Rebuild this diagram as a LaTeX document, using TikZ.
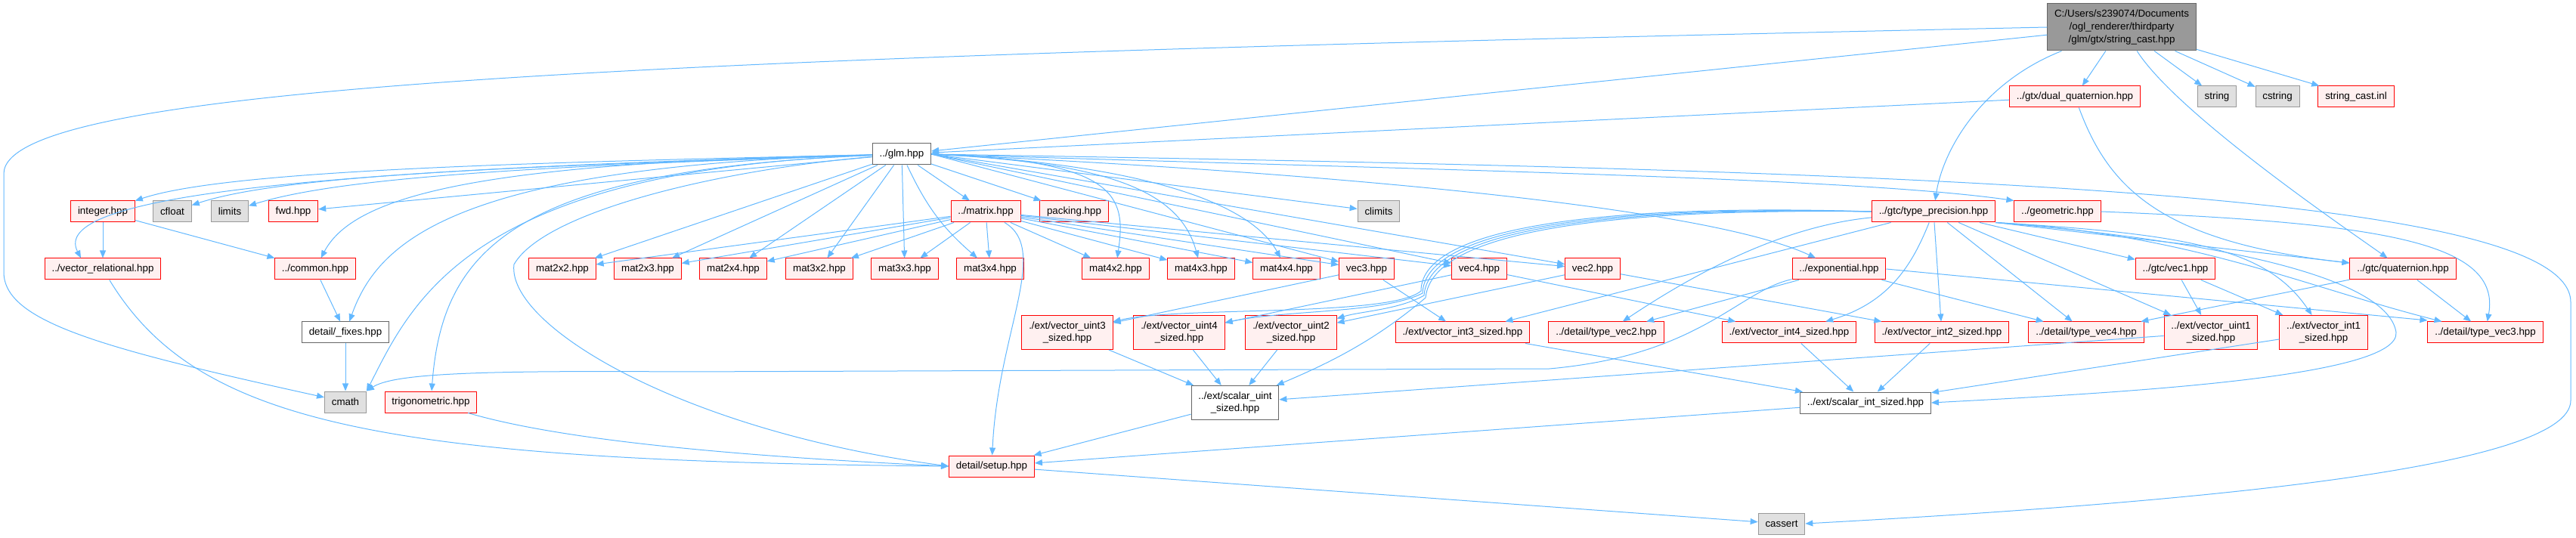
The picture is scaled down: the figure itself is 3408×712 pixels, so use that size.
\documentclass[tikz,border=0pt]{standalone}
\usepackage{fontspec}
\setmainfont{Liberation Sans}
\usetikzlibrary{arrows.meta}
\definecolor{edgeblue}{HTML}{63B8FF}
\definecolor{hdrfill}{HTML}{FFF0F0}
\definecolor{hdrline}{HTML}{FF0000}
\definecolor{sysfill}{HTML}{E0E0E0}
\definecolor{sysline}{HTML}{999999}
\definecolor{rootfill}{HTML}{999999}
\definecolor{darkline}{HTML}{666666}
\begin{document}
\begin{tikzpicture}[x=0.75pt, y=-0.75pt,
	filebox/.style={minimum height=21pt, inner xsep=7pt, inner ysep=2pt, line width=0.75pt, align=center, font=\fontsize{10}{12.5}\selectfont},
	hdr/.style={filebox, draw=hdrline, fill=hdrfill},
	sys/.style={filebox, draw=sysline, fill=sysfill},
	leaf/.style={filebox, draw=darkline, fill=white},
	rootfile/.style={filebox, draw=darkline, fill=rootfill, minimum height=46.5pt},
	tall/.style={minimum height=33.75pt},
	inc/.style={draw=edgeblue, line width=0.75pt, -{Triangle[length=7.5pt,width=6pt]}}]
	\useasboundingbox (0,0) rectangle (3408,712);
	% files
	\node[rootfile] (root) at (2807,36) {C:/Users/s239074/Documents\\/ogl\_renderer/thirdparty\\/glm/gtx/string\_cast.hpp};
	\node[hdr] (dualq) at (2745,128) {../gtx/dual\_quaternion.hpp};
	\node[sys] (string) at (2933,128) {string};
	\node[sys] (cstring) at (3013,128) {cstring};
	\node[hdr] (castinl) at (3117,128) {string\_cast.inl};
	\node[leaf] (glm) at (1193,204) {../glm.hpp};
	\node[hdr] (integer) at (136,280) {integer.hpp};
	\node[sys] (cfloat) at (228,280) {cfloat};
	\node[sys] (limits) at (304,280) {limits};
	\node[hdr] (fwd) at (388,280) {fwd.hpp};
	\node[hdr] (matrix) at (1304,280) {../matrix.hpp};
	\node[hdr] (packing) at (1421,280) {packing.hpp};
	\node[sys] (climits) at (1824,280) {climits};
	\node[hdr] (typeprec) at (2558,280) {../gtc/type\_precision.hpp};
	\node[hdr] (geometric) at (2722,280) {../geometric.hpp};
	\node[hdr] (vecrel) at (136,356) {../vector\_relational.hpp};
	\node[hdr] (common) at (417,356) {../common.hpp};
	\foreach \m/\x in {2x2/744, 2x3/857, 2x4/970, 3x2/1084, 3x3/1197, 3x4/1310, 4x2/1476, 4x3/1589, 4x4/1702}
		\node[hdr] (mat\m) at (\x,356) {mat\m.hpp};
	\node[hdr] (vec3) at (1808,356) {vec3.hpp};
	\node[hdr] (vec4) at (1957,356) {vec4.hpp};
	\node[hdr] (vec2) at (2107,356) {vec2.hpp};
	\node[hdr] (exponential) at (2433,356) {../exponential.hpp};
	\node[hdr] (gtcvec1) at (2878,356) {../gtc/vec1.hpp};
	\node[hdr] (quaternion) at (3179,356) {../gtc/quaternion.hpp};
	\node[leaf] (fixes) at (457,440) {detail/\_fixes.hpp};
	\node[hdr, tall] (uint3) at (1412,440) {./ext/vector\_uint3\\\_sized.hpp};
	\node[hdr, tall] (uint4) at (1560,440) {./ext/vector\_uint4\\\_sized.hpp};
	\node[hdr, tall] (uint2) at (1708,440) {./ext/vector\_uint2\\\_sized.hpp};
	\node[hdr] (int3) at (1935,440) {./ext/vector\_int3\_sized.hpp};
	\node[hdr] (tvec2) at (2125,440) {../detail/type\_vec2.hpp};
	\node[hdr] (int4) at (2367,440) {./ext/vector\_int4\_sized.hpp};
	\node[hdr] (int2) at (2569,440) {./ext/vector\_int2\_sized.hpp};
	\node[hdr] (tvec4) at (2760,440) {../detail/type\_vec4.hpp};
	\node[hdr, tall] (uint1) at (2925,440) {../ext/vector\_uint1\\\_sized.hpp};
	\node[hdr, tall] (int1) at (3074,440) {../ext/vector\_int1\\\_sized.hpp};
	\node[hdr] (tvec3) at (3288,440) {../detail/type\_vec3.hpp};
	\node[sys] (cmath) at (457,532) {cmath};
	\node[hdr] (trig) at (570,532) {trigonometric.hpp};
	\node[leaf, tall] (scuint) at (1634,533) {../ext/scalar\_uint\\\_sized.hpp};
	\node[leaf] (scint) at (2468,533) {../ext/scalar\_int\_sized.hpp};
	\node[hdr] (setup) at (1312,617) {detail/setup.hpp};
	\node[sys] (cassert) at (2357,693) {cassert};
	% string_cast.hpp
	\draw[inc] (root) -- (glm);
	\draw[inc] (root.west) .. controls (900,75) and (5,110) .. (5,230) -- (5,360) .. controls (5,425) and (130,460) .. (cmath);
	\draw[inc] (root) .. controls (2620,110) and (2570,200) .. (typeprec);
	\draw[inc] (root) -- (dualq);
	\draw[inc] (root) .. controls (2880,150) and (3100,300) .. (quaternion);
	\draw[inc] (root) -- (string);
	\draw[inc] (root) -- (cstring);
	\draw[inc] (root) -- (castinl);
	\draw[inc] (dualq) -- (glm);
	\draw[inc] (dualq) .. controls (2790,250) and (2860,320) .. (quaternion);
	% glm.hpp
	\draw[inc] (glm) .. controls (700,215) and (300,225) .. (integer);
	\draw[inc] (glm) .. controls (700,220) and (380,230) .. (cfloat);
	\draw[inc] (glm) .. controls (700,220) and (450,235) .. (limits);
	\draw[inc] (glm) -- (fwd);
	\draw[inc] (glm) .. controls (400,225) and (65,260) .. ([xshift=-21.75pt]vecrel.north);
	\draw[inc] (glm) .. controls (650,215) and (470,255) .. (common);
	\draw[inc] (glm) .. controls (600,220) and (500,320) .. (fixes);
	\draw[inc] (glm) .. controls (620,225) and (545,400) .. (cmath.north east);
	\draw[inc] (glm) .. controls (680,225) and (585,330) .. (trig);
	\draw[inc] (glm) .. controls (950,225) and (720,280) .. (680,350) .. controls (670,430) and (900,570) .. (setup.west);
	\foreach \m in {2x2,2x3,2x4,3x2,3x3}
		\draw[inc] (glm) -- (mat\m);
	\draw[inc] (glm) to[bend right=12] (mat3x4);
	\draw[inc] (glm) -- (matrix);
	\draw[inc] (glm) -- (packing);
	\draw[inc] (glm.east) .. controls (1480,212) and (1490,260) .. (mat4x2);
	\draw[inc] (glm.east) .. controls (1460,215) and (1560,250) .. (mat4x3);
	\draw[inc] (glm.east) .. controls (1480,215) and (1650,260) .. (mat4x4);
	\draw[inc] (glm.east) -- (climits);
	\draw[inc] (glm.east) -- (vec3);
	\draw[inc] (glm.east) -- (vec4);
	\draw[inc] (glm.east) -- (vec2);
	\draw[inc] (glm.east) .. controls (1700,225) and (2250,270) .. (exponential);
	\draw[inc] (glm.east) .. controls (1900,225) and (2450,235) .. (geometric.north west);
	\draw[inc] (glm.east) .. controls (2500,225) and (3401,250) .. (3401,400) -- (3401,530) .. controls (3401,620) and (2900,665) .. (cassert.east);
	% matrix.hpp
	\foreach \m in {2x2,2x3,2x4,3x2,3x3,3x4,4x2,4x3,4x4}
		\draw[inc] (matrix) -- (mat\m);
	\draw[inc] (matrix) -- (vec3);
	\draw[inc] (matrix) -- (vec4);
	\draw[inc] (matrix) -- (vec2);
	\draw[inc] (matrix) .. controls (1390,330) and (1320,440) .. (setup);
	% vectors
	\draw[inc] (vec3) -- (uint3);
	\draw[inc] (vec3) -- (int3);
	\draw[inc] (vec4) -- (uint4);
	\draw[inc] (vec4) -- (int4);
	\draw[inc] (vec2) -- (uint2);
	\draw[inc] (vec2) -- (int2);
	% type_precision.hpp
	\draw[inc] (typeprec.south east) -- (quaternion);
	\draw[inc] (typeprec) -- (gtcvec1);
	\draw[inc] (typeprec.south east) .. controls (2900,310) and (3000,330) .. (int1);
	\draw[inc] (typeprec) -- (uint1);
	\draw[inc] (typeprec) -- (tvec4);
	\draw[inc] (typeprec) -- (int2);
	\draw[inc] (typeprec) .. controls (2530,350) and (2500,400) .. (int4);
	\draw[inc] (typeprec) .. controls (2350,300) and (2230,370) .. (tvec2);
	\draw[inc] (typeprec) -- (int3);
	\draw[inc] (typeprec.south east) .. controls (2900,310) and (3050,380) .. (tvec3);
	\draw[inc] (typeprec.south east) .. controls (2950,320) and (3160,370) .. (3170,440) .. controls (3175,500) and (2800,520) .. (scint.east);
	\draw[inc] (typeprec.west) .. controls (2150,270) and (1880,295) .. (1880,385) .. controls (1840,420) and (1560,405) .. (uint3);
	\draw[inc] (typeprec.west) .. controls (2150,272) and (1885,297) .. (1882,388) .. controls (1830,415) and (1700,410) .. (uint4);
	\draw[inc] (typeprec.west) .. controls (2150,274) and (1890,299) .. (1884,391) .. controls (1850,410) and (1800,412) .. (uint2);
	\draw[inc] (typeprec.west) .. controls (2150,276) and (1895,301) .. (1886,394) .. controls (1820,450) and (1760,480) .. (scuint);
	% exponential.hpp
	\draw[inc] (exponential) .. controls (2300,385) and (2250,470) .. (2050,488) -- (900,492) .. controls (620,490) and (520,495) .. (cmath.north east);
	\draw[inc] (exponential) -- (tvec2);
	\draw[inc] (exponential) -- (tvec4);
	\draw[inc] (exponential.east) -- ([yshift=12pt]tvec3.west);
	% gtc headers
	\draw[inc] (gtcvec1) -- (uint1);
	\draw[inc] (gtcvec1) -- (int1);
	\draw[inc] (quaternion) -- (tvec4);
	\draw[inc] (quaternion) -- (tvec3);
	\draw[inc] (geometric.east) .. controls (3150,295) and (3310,320) .. (tvec3);
	% left side
	\draw[inc] (integer) -- (vecrel);
	\draw[inc] (integer) -- (common);
	\draw[inc] (common) -- (fixes);
	\draw[inc] (fixes) -- (cmath);
	\draw[inc] (vecrel) .. controls (260,560) and (500,610) .. (setup.west);
	\draw[inc] (trig) .. controls (750,585) and (1000,605) .. (setup.west);
	% sized vectors
	\foreach \v in {uint3,uint4,uint2,uint1}
		\draw[inc] (\v) -- (scuint);
	\foreach \v in {int3,int4,int2,int1}
		\draw[inc] (\v) -- (scint);
	\draw[inc] (scuint) -- (setup);
	\draw[inc] (scint) -- (setup);
	\draw[inc] (setup) -- (cassert);
\end{tikzpicture}
\end{document}
